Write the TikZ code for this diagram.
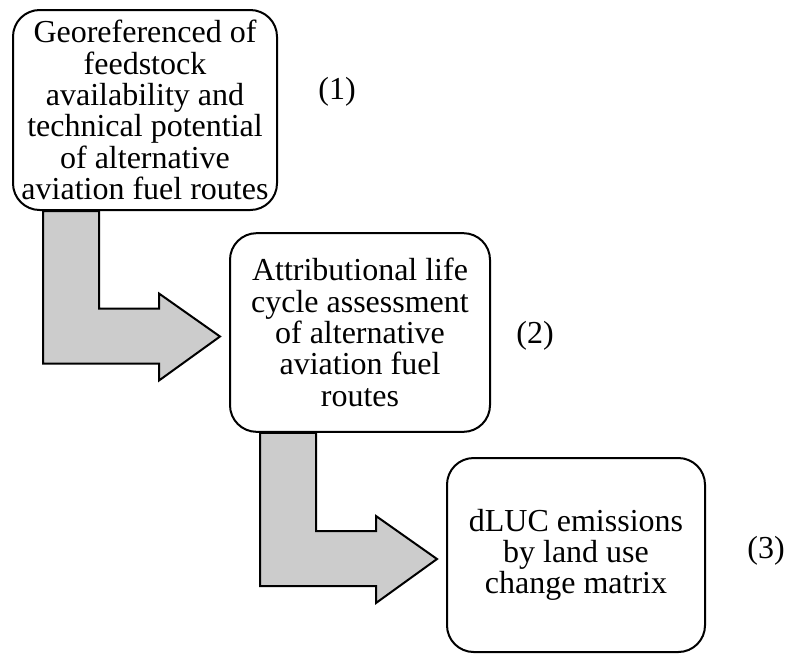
\documentclass[tikz,border=0pt]{standalone}
\usepackage{fontspec}
\setmainfont{Liberation Serif}
\usetikzlibrary{calc}
\definecolor{mygray}{RGB}{204,204,204}

\tikzset{
	stepbox/.style = {draw, line width=1.5pt, rounded corners=20pt, align=center, inner sep=0pt, font=\fontsize{24}{23.5}\selectfont},
	steplabel/.style = {font=\fontsize{24}{23.5}\selectfont},
	fatarrow/.style = {draw, line width=1.5pt, fill=mygray, line join=miter}
}

\begin{document}
\begin{tikzpicture}[x=0.75pt, y=-0.75pt]

\useasboundingbox (0,0) rectangle (787,654);

%---------BOXES-----------%
\node [stepbox, minimum width=198pt, minimum height=150pt] (geo) at (145,110)
	{Georeferenced of\\ feedstock\\ availability and\\ technical potential\\ of alternative\\ aviation fuel routes};
\node [stepbox, minimum width=195pt, minimum height=149pt] (alca) at (360,332.5)
	{Attributional life\\ cycle assessment\\ of alternative\\ aviation fuel\\ routes};
\node [stepbox, minimum width=193.5pt, minimum height=145.5pt] (dluc) at (576,555)
	{dLUC emissions\\ by land use\\ change matrix};

%---------NUMBERS-----------%
\node [steplabel] (n1) at (337,92) {(1)};
\node [steplabel] (n2) at (535,336) {(2)};
\node [steplabel] (n3) at (766,551) {(3)};

%---------ARROWS-----------%
\foreach \a/\b in {geo/alca, alca/dluc}{
	\coordinate (tip) at ($(\b.west)+(-9,4)$);
	\draw [fatarrow]
	  ($(\a.south west)+(87,0)$) |- ($(tip)+(-61,-28)$) -- ++(0,-15) -- (tip)
	  -- ++(-61,44) -- ++(0,-17) -| ($(\a.south west)+(31,0)$) -- cycle;
};

\end{tikzpicture}
\end{document}
